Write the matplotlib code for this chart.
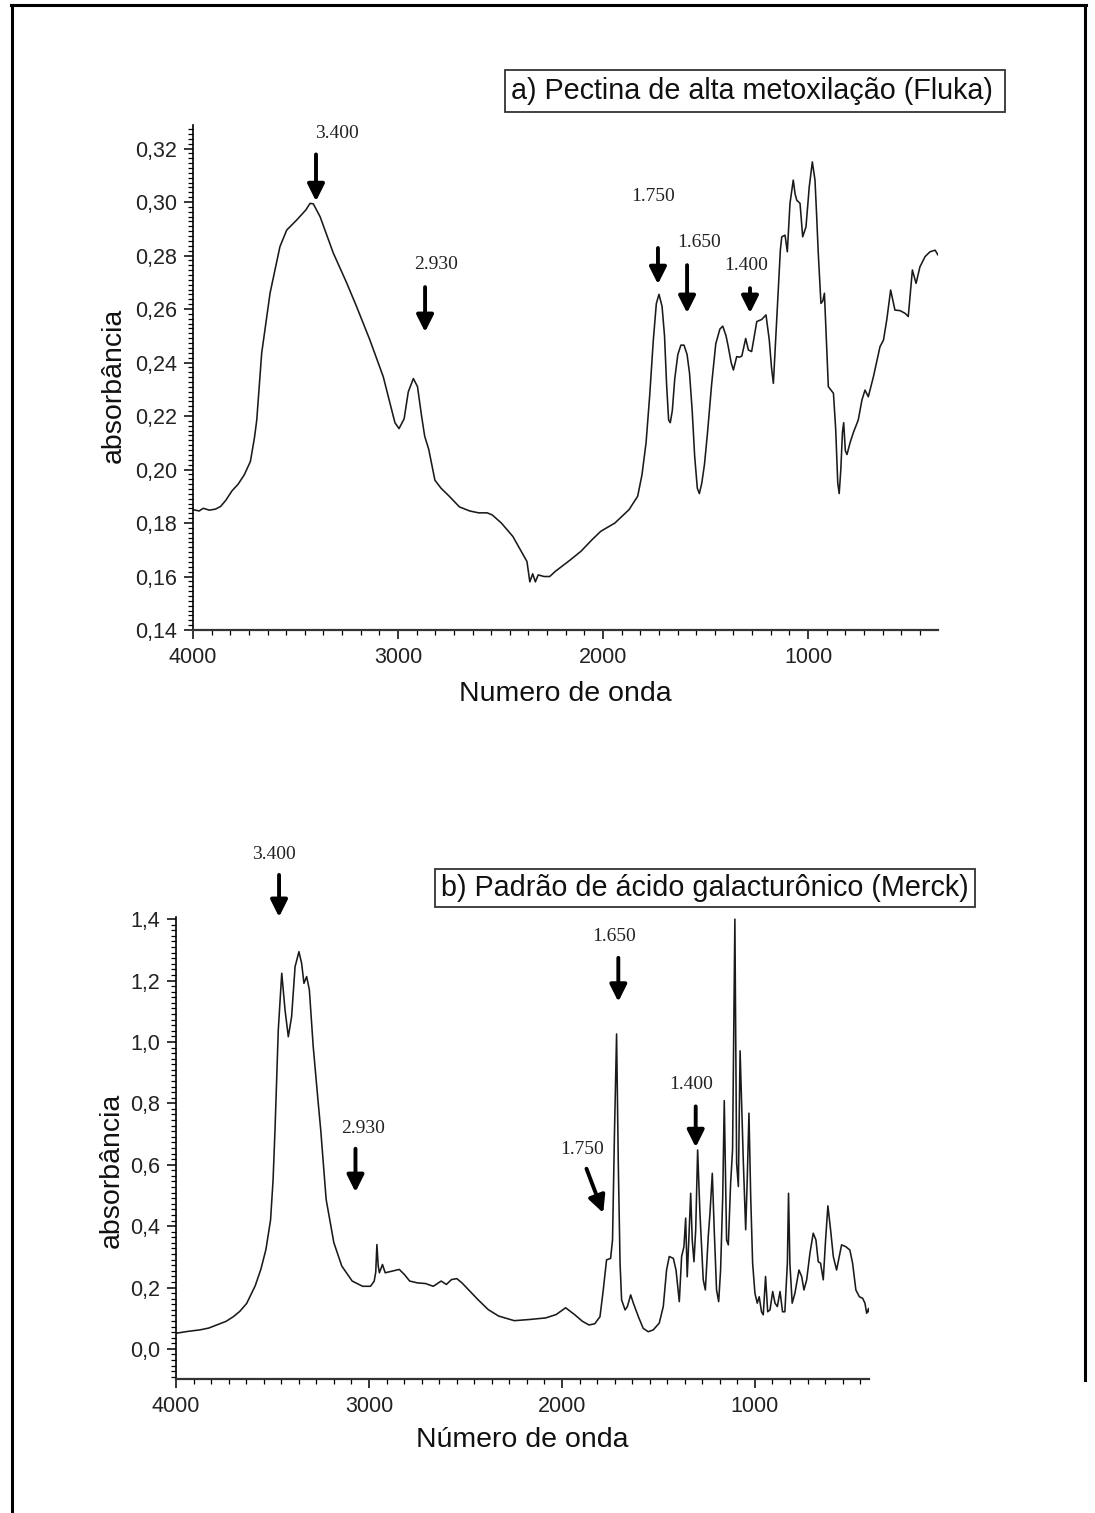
import matplotlib
matplotlib.use("Agg")
import matplotlib.pyplot as plt
from matplotlib.ticker import MultipleLocator, AutoMinorLocator, FuncFormatter
from matplotlib.patches import Rectangle
from matplotlib.lines import Line2D

plt.rcParams['font.family'] = ['Liberation Sans', 'DejaVu Sans']

# ---- data ----
# a) Pectina de alta metoxilacao (Fluka)
wn_a = [4000, 3970, 3950, 3920, 3890, 3865, 3840, 3810, 3780, 3750, 3720, 3700,
        3689, 3665, 3624, 3576, 3543, 3494, 3450, 3429, 3413, 3380, 3316, 3250,
        3202, 3137, 3072, 3040, 3015, 2995, 2970, 2950, 2925, 2905, 2885, 2870,
        2850, 2820, 2790, 2750, 2700, 2650, 2607, 2565, 2540, 2496, 2440, 2385,
        2371, 2357, 2343, 2330, 2316, 2288, 2260, 2233, 2163, 2108, 2053, 2011,
        1942, 1873, 1831, 1810, 1790, 1772, 1755, 1740, 1727, 1712, 1700, 1690,
        1680, 1672, 1662, 1650, 1635, 1620, 1605, 1590, 1578, 1565, 1553, 1540,
        1530, 1518, 1505, 1490, 1470, 1450, 1430, 1416, 1400, 1389, 1375, 1364,
        1348, 1335, 1323, 1304, 1291, 1275, 1262, 1250, 1226, 1205, 1189, 1178,
        1169, 1157, 1145, 1135, 1128, 1112, 1101, 1088, 1072, 1063, 1055, 1039,
        1026, 1010, 994, 979, 966, 958, 950, 937, 928, 920, 910, 901, 876, 865,
        855, 848, 840, 832, 826, 818, 810, 795, 778, 755, 737, 722, 706, 681,
        649, 632, 616, 597, 576, 551, 527, 511, 491, 473, 454, 429, 405, 380, 366]
ab_a = [0.185, 0.1845, 0.1855, 0.1848, 0.1852, 0.1862, 0.1885, 0.192, 0.1945, 0.198, 0.203, 0.212,
        0.2185, 0.2435, 0.266, 0.2833, 0.2895, 0.2933, 0.297, 0.2995, 0.2993, 0.2945, 0.281, 0.2697,
        0.2609, 0.2484, 0.2347, 0.225, 0.2175, 0.2153, 0.219, 0.229, 0.234, 0.231, 0.220, 0.2125,
        0.2075, 0.196, 0.193, 0.190, 0.186, 0.1845, 0.1838, 0.1838, 0.183, 0.180, 0.175, 0.1675,
        0.1656, 0.158, 0.161, 0.158, 0.1606, 0.160, 0.160, 0.1619, 0.166, 0.1694, 0.1738, 0.1769,
        0.180, 0.185, 0.190, 0.198, 0.210, 0.228, 0.248, 0.262, 0.2655, 0.261, 0.250, 0.232,
        0.2185, 0.2175, 0.222, 0.234, 0.243, 0.2465, 0.2465, 0.243, 0.236, 0.222, 0.205, 0.193,
        0.191, 0.195, 0.202, 0.214, 0.232, 0.247, 0.2525, 0.2536, 0.250, 0.2459, 0.240, 0.2372,
        0.2422, 0.242, 0.2424, 0.249, 0.2447, 0.2441, 0.250, 0.2553, 0.2561, 0.2578, 0.2484, 0.238,
        0.2322, 0.250, 0.2683, 0.282, 0.287, 0.2876, 0.2814, 0.2995, 0.3082, 0.303, 0.3007, 0.2995,
        0.287, 0.2907, 0.3057, 0.315, 0.3082, 0.295, 0.2808, 0.2621, 0.263, 0.2659, 0.248, 0.231, 0.2285, 0.215,
        0.195, 0.191, 0.200, 0.214, 0.2175, 0.207, 0.2056, 0.210, 0.214, 0.2185, 0.226, 0.2297, 0.2272, 0.2347,
        0.2459, 0.2484, 0.2559, 0.2671, 0.2596, 0.2594, 0.2584, 0.2572, 0.2746, 0.2696, 0.2758, 0.2796, 0.2814, 0.282, 0.2802]

# b) Padrao de acido galacturonico (Merck)
wn_b = [4000, 3940, 3876, 3830, 3789, 3740, 3703, 3670, 3634, 3590, 3560, 3534,
        3510, 3497, 3487, 3470, 3452, 3435, 3418, 3401, 3383, 3363, 3349, 3337,
        3323, 3309, 3289, 3266, 3250, 3222, 3182, 3141, 3087, 3033, 2992, 2973,
        2965, 2959, 2952, 2946, 2930, 2916, 2883, 2843, 2816, 2789, 2748, 2707,
        2667, 2626, 2599, 2572, 2545, 2518, 2477, 2436, 2382, 2328, 2247, 2165,
        2084, 2030, 1981, 1935, 1894, 1860, 1830, 1803, 1786, 1769, 1748, 1738,
        1728, 1717, 1708, 1699, 1691, 1673, 1661, 1644, 1630, 1604, 1579, 1553,
        1527, 1496, 1475, 1458, 1444, 1423, 1409, 1392, 1380, 1368, 1359, 1351,
        1342, 1333, 1325, 1316, 1307, 1297, 1285, 1268, 1257, 1242, 1233, 1221,
        1211, 1199, 1188, 1178, 1167, 1159, 1147, 1138, 1126, 1116, 1104, 1095,
        1086, 1077, 1060, 1048, 1040, 1031, 1022, 1012, 1000, 988, 978, 966,
        957, 945, 934, 922, 908, 896, 884, 870, 857, 845, 832, 826,
        819, 807, 793, 772, 758, 746, 732, 715, 698, 684, 672, 660,
        646, 634, 622, 608, 594, 577, 563, 551, 529, 508, 494, 477,
        459, 442, 430, 421, 411, 409]
ab_b = [0.051, 0.057, 0.062, 0.068, 0.078, 0.090, 0.105, 0.122, 0.148, 0.205, 0.260, 0.324,
        0.420, 0.550, 0.713, 1.039, 1.224, 1.104, 1.017, 1.082, 1.245, 1.294, 1.256, 1.191,
        1.213, 1.170, 0.985, 0.822, 0.713, 0.487, 0.346, 0.270, 0.221, 0.204, 0.204, 0.221,
        0.250, 0.340, 0.270, 0.248, 0.275, 0.248, 0.253, 0.259, 0.242, 0.221, 0.215, 0.213,
        0.204, 0.221, 0.210, 0.226, 0.229, 0.215, 0.188, 0.161, 0.128, 0.107, 0.092, 0.096,
        0.101, 0.112, 0.134, 0.112, 0.090, 0.078, 0.082, 0.105, 0.192, 0.290, 0.295, 0.355,
        0.700, 1.026, 0.600, 0.279, 0.160, 0.127, 0.138, 0.176, 0.149, 0.105, 0.067, 0.056,
        0.062, 0.084, 0.138, 0.257, 0.301, 0.295, 0.257, 0.154, 0.301, 0.333, 0.426, 0.235,
        0.366, 0.507, 0.355, 0.284, 0.388, 0.648, 0.442, 0.225, 0.192, 0.366, 0.442, 0.572,
        0.388, 0.192, 0.154, 0.257, 0.496, 0.809, 0.355, 0.339, 0.540, 0.648, 1.400, 0.605,
        0.529, 0.971, 0.605, 0.388, 0.551, 0.768, 0.496, 0.279, 0.181, 0.149, 0.170, 0.121,
        0.111, 0.236, 0.121, 0.127, 0.187, 0.149, 0.138, 0.187, 0.121, 0.121, 0.279, 0.507,
        0.279, 0.149, 0.181, 0.257, 0.236, 0.192, 0.225, 0.312, 0.377, 0.355, 0.284, 0.279,
        0.225, 0.355, 0.466, 0.388, 0.301, 0.257, 0.301, 0.339, 0.333, 0.322, 0.279, 0.192,
        0.170, 0.165, 0.149, 0.116, 0.132, 0.121]

# band markers: label, label position, arrow tail, arrow tip
marks_a = [("3.400", (3298, 0.3256), (3400, 0.3178), (3400, 0.3003)),
           ("2.930", (2815, 0.2765), (2868, 0.2682), (2868, 0.2514)),
           ("1.750", (1756, 0.3019), (1732, 0.2828), (1732, 0.2693)),
           ("1.650", (1532, 0.2847), (1590, 0.2764), (1590, 0.2585)),
           ("1.400", (1302, 0.2764), (1283, 0.2678), (1283, 0.2585))]
marks_b = [("3.400", (3492, 1.609), (3466, 1.544), (3466, 1.407)),
           ("2.930", (3030, 0.717), (3070, 0.652), (3070, 0.511)),
           ("1.750", (1894, 0.649), (1873, 0.587), (1786, 0.443)),
           ("1.650", (1731, 1.342), (1708, 1.274), (1708, 1.131)),
           ("1.400", (1328, 0.860), (1307, 0.790), (1307, 0.657))]

title_a = "a) Pectina de alta metoxilação (Fluka)"
title_b = "b) Padrão de ácido galacturônico (Merck)"

W, H = 1095, 1513
fig = plt.figure(figsize=(W / 100, H / 100), dpi=100)


def fx(px):
    return px / W


def fy(py):
    return 1 - py / H


def style_axes(ax, fmt):
    for s in ['top', 'right']:
        ax.spines[s].set_visible(False)
    ax.spines['left'].set_linewidth(1.2)
    ax.spines['bottom'].set_linewidth(1.6)
    ax.spines['bottom'].set_color('#333333')
    ax.xaxis.set_major_locator(MultipleLocator(1000))
    ax.xaxis.set_minor_locator(AutoMinorLocator(11))
    ax.yaxis.set_minor_locator(AutoMinorLocator(11))
    ax.yaxis.set_major_formatter(FuncFormatter(lambda v, p: fmt.format(v).replace('.', ',')))
    ax.xaxis.set_major_formatter(FuncFormatter(lambda v, p: f"{v:.0f}"))
    ax.tick_params(which='major', direction='out', length=6.5, width=1.1, labelsize=15.5,
                   pad=5, labelcolor='#222222')
    ax.tick_params(which='minor', direction='out', length=3.5, width=0.9)
    ax.tick_params(axis='x', which='major', pad=6)


def draw_marks(ax, marks):
    for lab, lpos, tail, tip in marks:
        ax.annotate('', xy=tip, xytext=tail, annotation_clip=False,
                    arrowprops=dict(arrowstyle='-|>,head_length=0.6,head_width=0.3',
                                    lw=2.8, color='black', mutation_scale=17,
                                    shrinkA=0, shrinkB=0))
        ax.text(lpos[0], lpos[1], lab, ha='center', va='center', fontsize=14,
                family=['Liberation Serif', 'DejaVu Serif'], color='#222222', clip_on=False)


# top panel
ax1 = fig.add_axes([fx(193), fy(630), fx(938) - fx(193), fy(125) - fy(630)])
ax1.plot(wn_a, ab_a, color='#1a1a1a', lw=1.15)
ax1.set_xlim(4000, 366)
ax1.set_ylim(0.14, 0.3288)
ax1.yaxis.set_major_locator(MultipleLocator(0.02))
style_axes(ax1, "{:.2f}")
ax1.set_xlabel("Numero de onda", fontsize=20.5, va='top', color='#111111')
ax1.xaxis.set_label_coords(0.5, -0.101)
ax1.set_ylabel("absorbância", fontsize=20.5, va='bottom', color='#111111')
ax1.yaxis.set_label_coords(-0.0886, 0.485)
draw_marks(ax1, marks_a)

# bottom panel
ax2 = fig.add_axes([fx(176), fy(1379), fx(869) - fx(176), fy(917) - fy(1379)])
ax2.plot(wn_b, ab_b, color='#1a1a1a', lw=1.15)
ax2.set_xlim(4000, 409)
ax2.set_ylim(-0.098, 1.407)
ax2.yaxis.set_major_locator(MultipleLocator(0.2))
style_axes(ax2, "{:.1f}")
ax2.set_xlabel("Número de onda", fontsize=20.5, va='top', color='#111111')
ax2.xaxis.set_label_coords(0.5, -0.104)
ax2.set_ylabel("absorbância", fontsize=20.5, va='bottom', color='#111111')
ax2.yaxis.set_label_coords(-0.0736, 0.452)
draw_marks(ax2, marks_b)

# title boxes
for (x0, y0, x1, y1), txt in [((505, 70, 1005, 112), title_a), ((435, 869, 975, 907), title_b)]:
    fig.add_artist(Rectangle((fx(x0), fy(y1)), fx(x1) - fx(x0), fy(y0) - fy(y1),
                             transform=fig.transFigure, fill=False, lw=1.3, ec='#333333'))
    fig.text(fx(x0 + 6), fy((y0 + y1) / 2), txt, fontsize=20.7, ha='left', va='center', color='#111111')

# page frame
for xs, ys in [((11, 1086), (5, 5)), ((12, 12), (5, 1513)), ((1085, 1085), (5, 1380))]:
    fig.add_artist(Line2D([fx(xs[0]), fx(xs[1])], [fy(ys[0]), fy(ys[1])],
                          transform=fig.transFigure, color='black', lw=2.2))

fig.savefig("out.png", dpi=100)
